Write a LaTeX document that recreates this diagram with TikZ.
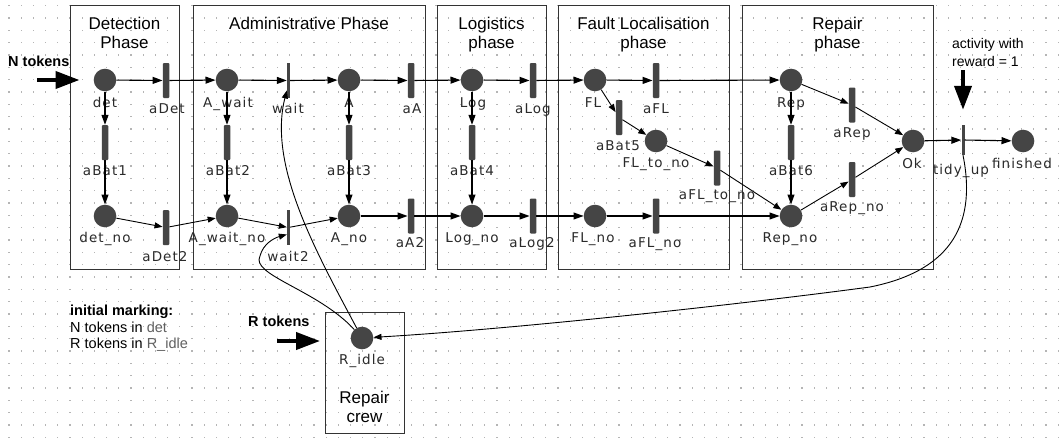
\documentclass[tikz,border=0pt]{standalone}
\usepackage{fontspec}
\setmainfont{Liberation Sans}
\newfontfamily\lblfont[LetterSpace=8]{DejaVu Sans}
\usetikzlibrary{arrows.meta}
\definecolor{pl}{HTML}{454545}
\definecolor{lblc}{HTML}{2A2A2A}
\definecolor{boxc}{HTML}{333333}
\definecolor{dotc}{HTML}{B5B5B5}
\definecolor{hint}{HTML}{606060}
\begin{document}
\begin{tikzpicture}[x=1pt,y=-1pt,
  place/.style={circle,fill=pl,minimum size=22.6pt,inner sep=0pt},
  trans/.style={rectangle,fill=pl,minimum width=6.5pt,minimum height=35pt,inner sep=0pt,rounded corners=1pt},
  itrans/.style={rectangle,fill=pl,minimum width=3pt,minimum height=35pt,inner sep=0pt},
  arc/.style={-{Triangle[length=10pt,width=7pt]},line width=1.1pt},
  carc/.style={-{Triangle[length=8pt,width=6pt]},line width=0.9pt},
  lbl/.style={font=\lblfont\fontsize{13.5}{16}\selectfont,text=lblc,anchor=base,inner sep=0pt},
  phasebox/.style={draw=boxc,line width=1.2pt,anchor=north west,inner sep=0pt},
  ttl/.style={font=\fontsize{17}{19}\selectfont,anchor=base,inner sep=0pt},
  note/.style={font=\fontsize{14.5}{17}\selectfont,anchor=base west,inner sep=0pt},
  bnote/.style={font=\bfseries\fontsize{14.5}{17}\selectfont,anchor=base west,inner sep=0pt},
  bigarrow/.style={-{Triangle[length=24pt,width=17pt]},line width=4pt},
]
\useasboundingbox (0,0) rectangle (1062,439);
\fill[white] (0,0) rectangle (1062,439);
% dotted grid
\foreach \i in {0,...,86}{
  \foreach \j in {0,...,35}{
    \fill[dotc] (8.3+12.2*\i,5.1+12.33*\j) rectangle +(1.3,1.3);
  }
}
% phase boxes
\node[phasebox,minimum width=109pt,minimum height=264pt] (bDet) at (70,5) {};
\node[phasebox,minimum width=232pt,minimum height=264pt] (bAdm) at (193,5) {};
\node[phasebox,minimum width=109pt,minimum height=264pt] (bLog) at (437,5) {};
\node[phasebox,minimum width=171pt,minimum height=264pt] (bFL) at (558,5) {};
\node[phasebox,minimum width=191pt,minimum height=264pt] (bRep) at (742,5) {};
\node[phasebox,minimum width=79pt,minimum height=121pt] (bCrew) at (325,312) {};
% titles
\node[ttl] (tDet1) at (124.5,29) {Detection};
\node[ttl] (tDet2) at (124.5,48) {Phase};
\node[ttl] (tAdm) at (309,29) {Administrative Phase};
\node[ttl] (tLog1) at (491.5,29) {Logistics};
\node[ttl] (tLog2) at (491.5,48) {phase};
\node[ttl] (tFL1) at (643.5,29) {Fault Localisation};
\node[ttl] (tFL2) at (643.5,48) {phase};
\node[ttl] (tRep1) at (837.5,29) {Repair};
\node[ttl] (tRep2) at (837.5,48) {phase};
\node[ttl] (tCrew1) at (364.5,403) {Repair};
\node[ttl] (tCrew2) at (364.5,422) {crew};
% notes
\node[note,font=\fontsize{14}{17}\selectfont] (act1) at (952,48) {activity with};
\node[note,font=\fontsize{14}{17}\selectfont] (act2) at (952,66) {reward = 1};
\node[bnote] (Ntok) at (8,66) {N tokens};
\node[bnote] (Rtok) at (248,326) {R tokens};
\node[bnote] (im1) at (70,315) {initial marking:};
\node[note] (im2) at (70,332) {N tokens in \textcolor{hint}{det}};
\node[note] (im3) at (70,348) {R tokens in \textcolor{hint}{R\_idle}};
% places
\node[place] (det) at (105,80) {};
\node[place] (Await) at (227,80) {};
\node[place] (A) at (349,80) {};
\node[place] (Log) at (472,80) {};
\node[place] (FL) at (595,80) {};
\node[place] (Rep) at (791,80) {};
\node[place] (Ok) at (913,141) {};
\node[place] (fin) at (1023,141) {};
\node[place] (FLtono) at (656,141) {};
\node[place] (detno) at (105,216) {};
\node[place] (Awaitno) at (227,216) {};
\node[place] (Ano) at (349,216) {};
\node[place] (Logno) at (472,216) {};
\node[place] (FLno) at (595,216) {};
\node[place] (Repno) at (791,216) {};
\node[place] (Ridle) at (362,338) {};
% transitions
\node[trans] (aDet) at (166,80.5) {};
\node[itrans] (wait) at (288.5,80.5) {};
\node[trans] (aA) at (411,80.5) {};
\node[trans] (aLog) at (533,80.5) {};
\node[trans] (aFL) at (656,80.5) {};
\node[trans] (aRep) at (852,105) {};
\node[itrans,minimum height=30pt] (tidy) at (963,140) {};
\node[trans] (aBat1) at (105,142.5) {};
\node[trans] (aBat2) at (227,142.5) {};
\node[trans] (aBat3) at (349,142.5) {};
\node[trans] (aBat4) at (472,142.5) {};
\node[trans] (aBat5) at (619,117.5) {};
\node[trans] (aBat6) at (791,142.5) {};
\node[trans] (aFLtono) at (717,168) {};
\node[trans] (aRepno) at (852,179.5) {};
\node[trans] (aDet2) at (166,227.5) {};
\node[itrans] (wait2) at (288.5,227.5) {};
\node[trans] (aA2) at (411,216) {};
\node[trans] (aLog2) at (533,216) {};
\node[trans] (aFLno) at (656,216) {};
% labels
\node[lbl] (l1) at (105,107) {det};
\node[lbl] (l2) at (167,113) {aDet};
\node[lbl] (l3) at (228,107) {A\_wait};
\node[lbl] (l4) at (288,113) {wait};
\node[lbl] (l5) at (349,107) {A};
\node[lbl] (l6) at (412,113) {aA};
\node[lbl] (l7) at (473,107) {Log};
\node[lbl] (l8) at (533,113) {aLog};
\node[lbl] (l9) at (593,107) {FL};
\node[lbl] (l10) at (656,113) {aFL};
\node[lbl] (l11) at (791,107) {Rep};
\node[lbl] (l12) at (852,137) {aRep};
\node[lbl] (l13) at (105,175) {aBat1};
\node[lbl] (l14) at (228,175) {aBat2};
\node[lbl] (l15) at (349,175) {aBat3};
\node[lbl] (l16) at (472,175) {aBat4};
\node[lbl] (l17) at (791,175) {aBat6};
\node[lbl] (l18) at (618,150) {aBat5};
\node[lbl] (l19) at (656,167) {FL\_to\_no};
\node[lbl] (l20) at (717,199) {aFL\_to\_no};
\node[lbl] (l21) at (852,211) {aRep\_no};
\node[lbl] (l22) at (912,168) {Ok};
\node[lbl] (l23) at (961,174) {tidy\_up};
\node[lbl] (l24) at (1022,168) {finished};
\node[lbl] (l25) at (105,242) {det\_no};
\node[lbl] (l26) at (227,242) {A\_wait\_no};
\node[lbl] (l27) at (349,242) {A\_no};
\node[lbl] (l28) at (472,242) {Log\_no};
\node[lbl] (l29) at (593,242) {FL\_no};
\node[lbl] (l30) at (790,242) {Rep\_no};
\node[lbl] (l31) at (165,261) {aDet2};
\node[lbl] (l32) at (288,261) {wait2};
\node[lbl] (l33) at (410,247) {aA2};
\node[lbl] (l34) at (532,247) {aLog2};
\node[lbl] (l35) at (655,247) {aFL\_no};
\node[lbl] (l36) at (362,364) {R\_idle};
% arcs: top row
\draw[arc] (det) -- (aDet);
\draw[arc] (aDet) -- (Await);
\draw[arc] (Await) -- (wait);
\draw[arc] (wait) -- (A);
\draw[arc] (A) -- (aA);
\draw[arc] (aA) -- (Log);
\draw[arc] (Log) -- (aLog);
\draw[arc] (aLog) -- (FL);
\draw[arc] (FL) -- (aFL);
\draw[arc] (aFL) -- (Rep);
% vertical
\draw[arc] (det) -- (aBat1);
\draw[arc] (aBat1) -- (detno);
\draw[arc] (Await) -- (aBat2);
\draw[arc] (aBat2) -- (Awaitno);
\draw[arc] (A) -- (aBat3);
\draw[arc] (aBat3) -- (Ano);
\draw[arc] (Log) -- (aBat4);
\draw[arc] (aBat4) -- (Logno);
\draw[arc] (Rep) -- (aBat6);
\draw[arc] (aBat6) -- (Repno);
% fault localisation diagonal
\draw[carc] (FL) -- (aBat5);
\draw[carc] (aBat5) -- (FLtono);
\draw[carc] (FLtono) -- (aFLtono);
\draw[carc] (aFLtono) -- (Repno);
% repair
\draw[carc] (Rep) -- (aRep);
\draw[carc] (aRep) -- (Ok);
\draw[carc] (Repno) -- (aRepno);
\draw[carc] (aRepno) -- (Ok);
\draw[arc] (Ok) -- (tidy);
\draw[arc] (tidy) -- (fin);
% bottom row
\draw[carc] (detno) -- (aDet2);
\draw[carc] (aDet2) -- (Awaitno);
\draw[carc] (Awaitno) -- (wait2);
\draw[carc] (wait2) -- (Ano);
\draw[arc] (Ano) -- (aA2);
\draw[arc] (aA2) -- (Logno);
\draw[arc] (Logno) -- (aLog2);
\draw[arc] (aLog2) -- (FLno);
\draw[arc] (FLno) -- (aFLno);
\draw[arc] (aFLno) -- (Repno);
% repair crew curves
\draw[carc] (Ridle) .. controls (315,250) and (268,165) .. ([yshift=-10pt]wait.west);
\draw[carc] (Ridle) .. controls (318,290) and (250,275) .. (260,256) .. controls (263,244) and (274,238) .. ([yshift=-7pt]wait2.west);
\draw[carc] (tidy.south) .. controls (978,230) and (945,272) .. (870,287) .. controls (720,307) and (500,330) .. (Ridle);
% token arrows
\coordinate (Nsrc) at (37,80);
\draw[bigarrow] (Nsrc) -- ([xshift=-14pt]det.west);
\coordinate (Rsrc) at (277,341);
\coordinate (Rtip) at (320,341);
\draw[bigarrow] (Rsrc) -- (Rtip);
\coordinate (Tsrc) at (963,70);
\draw[bigarrow] (Tsrc) -- ([yshift=15pt]tidy.north);
\end{tikzpicture}
\end{document}
